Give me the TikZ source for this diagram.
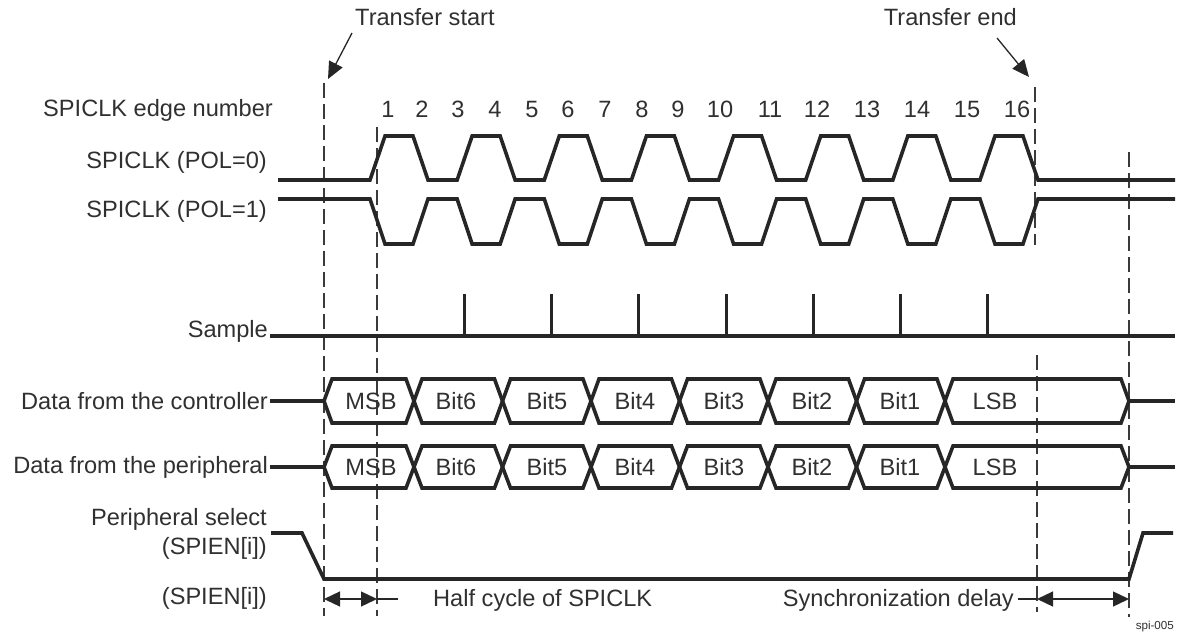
\documentclass[tikz,border=0pt]{standalone}
\usepackage{fontspec}
\setmainfont{Liberation Sans}
\usetikzlibrary{arrows.meta}
\definecolor{ink}{HTML}{262626}
\definecolor{txt}{HTML}{303030}
\definecolor{dashc}{HTML}{3A3A3A}
\tikzset{
  lbl/.style={inner sep=0pt, text=txt, font=\fontsize{23.6}{28}\selectfont},
  wave/.style={draw=ink, line width=3.6pt, line join=miter},
  tick/.style={draw=ink, line width=3pt},
  guide/.style={draw=dashc, line width=1.3pt, dash pattern=on 15pt off 6pt},
  dim/.style={draw=ink, line width=1.3pt},
  tip/.style={-{Triangle[length=17pt,width=15pt]}},
  tips/.style={{Triangle[length=16pt,width=15pt]}-{Triangle[length=16pt,width=15pt]}},
}
\begin{document}
\begin{tikzpicture}[x=1pt,y=-1pt]
\useasboundingbox (0,0) rectangle (1181,642);
% titles
\node[lbl, anchor=west] (tstart) at (355,17) {Transfer start};
\node[lbl, anchor=east] (tend) at (1017,17) {Transfer end};
\coordinate (sa) at (352,33); \coordinate (sb) at (328,79);
\coordinate (ea) at (997,38); \coordinate (eb) at (1029,77);
\draw[dim, tip] (sa) -- (sb);
\draw[dim, tip] (ea) -- (eb);
% guide lines
\draw[guide] (324,83) -- (324,616);
\draw[guide] (377,127) -- (377,616);
\draw[guide] (1035,87) -- (1035,245);
\draw[guide] (1037,355) -- (1037,612);
\draw[guide] (1129,152) -- (1129,617);
% row labels
\node[lbl, anchor=east] (l1) at (273,110) {SPICLK edge number};
\node[lbl, anchor=east] (l2) at (267,162) {SPICLK (POL=0)};
\node[lbl, anchor=east] (l3) at (267,211) {SPICLK (POL=1)};
\node[lbl, anchor=east] (l4) at (268,331) {Sample};
\node[lbl, anchor=east] (l5) at (268,401) {Data from the controller};
\node[lbl, anchor=east] (l6) at (268,467) {Data from the peripheral};
\node[lbl, anchor=east] (l7) at (267,519) {Peripheral select};
\node[lbl, anchor=east] (l8) at (267,548) {(SPIEN[i])};
\node[lbl, anchor=east] (l9) at (267,598) {(SPIEN[i])};
% edge numbers
\foreach \n/\x in {1/388,2/422,3/458,4/495,5/532,6/568,7/605,8/642,9/678,10/720,11/770,12/817,13/867,14/917,15/967,16/1017}
  \node[lbl] (e\n) at (\x,109) {\n};
% clocks
\draw[wave] (278,180) -- (370,180)
  \foreach \k in {0,...,7} { -- ++(15,-44) -- ++(28,0) -- ++(15,44) -- ++(29.14,0) } -- (1175,180);
\draw[wave] (278,199) -- (370,199)
  \foreach \k in {0,...,7} { -- ++(15,45) -- ++(28,0) -- ++(15,-45) -- ++(29.14,0) } -- (1175,199);
% sample
\draw[wave, line width=3.3pt] (270,336) -- (1175,336);
\foreach \x in {464,551,638,726,813,900,987}
  \draw[tick] (\x,336) -- (\x,294);
% data buses
\foreach \yc/\h/\nm in {401/22/c, 467/21/p} {
  \draw[wave] (270,\yc) -- (324,\yc);
  \draw[wave] (1129,\yc) -- (1175,\yc);
  \foreach \a/\b in {324/414, 414/502.5, 502.5/591, 591/679.5, 679.5/768, 768/856.5, 856.5/945, 945/1129}
    \draw[wave] (\a,\yc) -- (\a+8,\yc-\h) -- (\b-8,\yc-\h) -- (\b,\yc) -- (\b-8,\yc+\h) -- (\a+8,\yc+\h) -- cycle;
  \foreach \t/\x in {MSB/371, Bit6/456, Bit5/547, Bit4/635, Bit3/724, Bit2/812, Bit1/900, LSB/995}
    \node[lbl] (\nm\t) at (\x,\yc) {\t};
}
% peripheral select
\draw[wave] (271,533) -- (302,533) -- (324,579) -- (1129,579) -- (1143,533) -- (1173,533);
% dimensions
\coordinate (d1) at (324,599); \coordinate (d2) at (377,599); \coordinate (d3) at (398,599);
\coordinate (d4) at (1018,599); \coordinate (d5) at (1037,599); \coordinate (d6) at (1129,599);
\draw[dim, tips] (d1) -- (d2);
\draw[dim] (d2) -- (d3);
\draw[dim] (d4) -- (d5);
\draw[dim, tips] (d5) -- (d6);
\node[lbl, anchor=west] (half) at (433,600) {Half cycle of SPICLK};
\node[lbl, anchor=east] (sync) at (1014,600) {Synchronization delay};
\node[inner sep=0pt, text=txt, font=\fontsize{11.6}{14}\selectfont, anchor=east] (id) at (1174,626) {spi-005};
\end{tikzpicture}
\end{document}
